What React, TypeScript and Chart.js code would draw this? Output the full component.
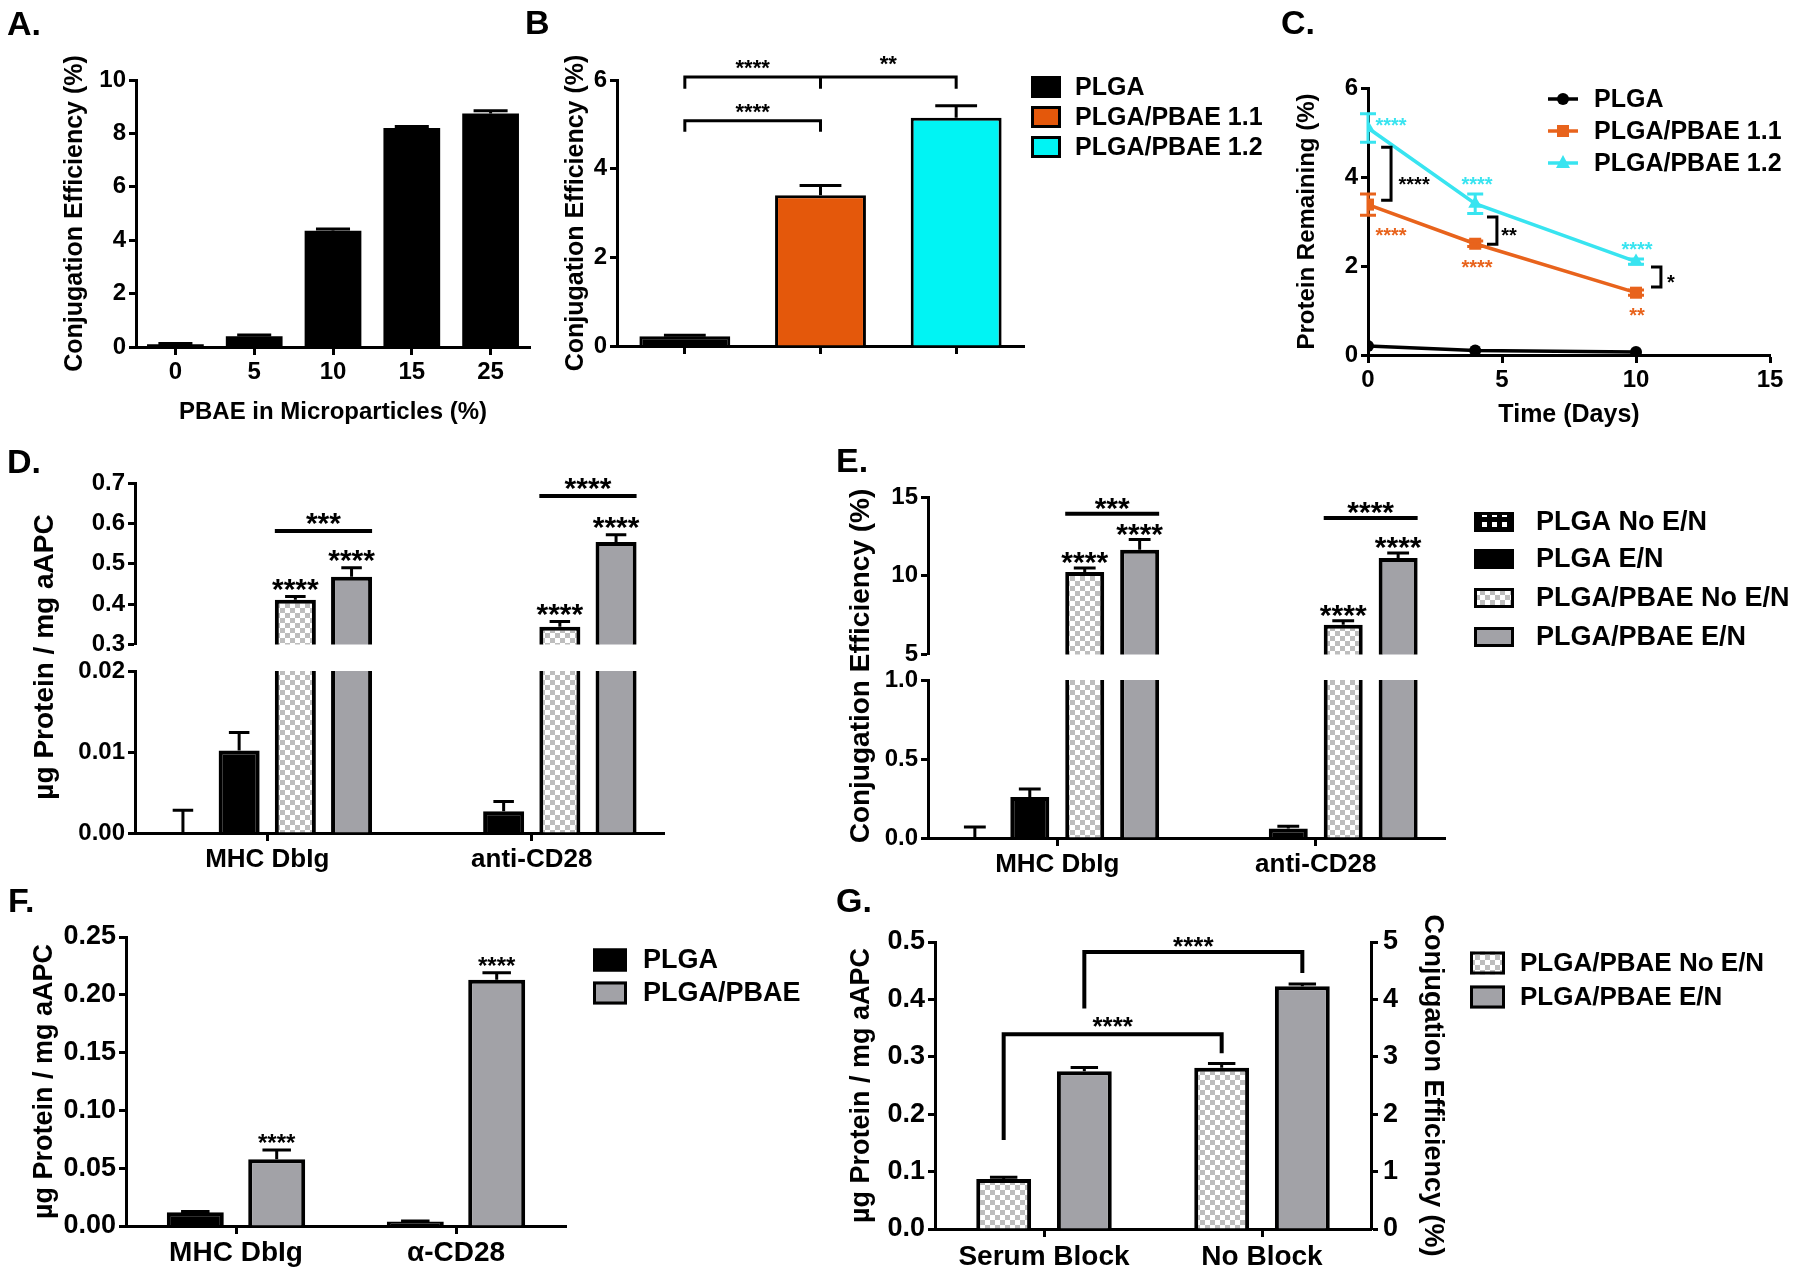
import React, { useEffect, useRef } from 'react';
import { Chart, registerables } from 'chart.js';

Chart.register(...registerables);

const FONT = "'Liberation Sans', Arial, Helvetica, sans-serif";
const BLACK = '#000000';
const GRAY = '#a2a2a7';
const ORANGE_B = '#e4580b';
const CYAN_B = '#00f4f4';
const ORANGE_C = '#e8631c';
const CYAN_C = '#38e4f0';

// ---------------- Panel A ----------------
const aCategories = ['0', '5', '10', '15', '25'];
const aValues = [0.1, 0.4, 4.35, 8.2, 8.75];
const aErrors = [0.03, 0.05, 0.07, 0.06, 0.1];
const aTicks = [0, 2, 4, 6, 8, 10];
const aTickLabels = ['0', '2', '4', '6', '8', '10'];

// ---------------- Panel B ----------------
const bSeries = ['PLGA', 'PLGA/PBAE 1.1', 'PLGA/PBAE 1.2'];
const bValues = [0.22, 3.4, 5.15];
const bErrors = [0.02, 0.22, 0.27];
const bTicks = [0, 2, 4, 6];
const bTickLabels = ['0', '2', '4', '6'];
const bBrackets = [
  { from: 0, to: 2, mid: 1, y: 6.07, legY: 5.8 },
  { from: 0, to: 1, mid: -1, y: 5.08, legY: 4.83 },
];
const bStars = [
  { text: '****', x: 0.5, y: 6.41 },
  { text: '**', x: 1.5, y: 6.5 },
  { text: '****', x: 0.5, y: 5.41 },
];

// ---------------- Panel C ----------------
const cDays = [0, 4, 10];
const cSeries = ['PLGA', 'PLGA/PBAE 1.1', 'PLGA/PBAE 1.2'];
const cPLGA = [0.2, 0.1, 0.07];
const cPLGAErr = [0, 0, 0];
const cPBAE11 = [3.38, 2.5, 1.4];
const cPBAE11Err = [0.24, 0.06, 0.06];
const cPBAE12 = [5.1, 3.4, 2.1];
const cPBAE12Err = [0.32, 0.22, 0.06];
const cXTicks = [0, 5, 10, 15];
const cXTickLabels = ['0', '5', '10', '15'];
const cYTicks = [0, 2, 4, 6];
const cYTickLabels = ['0', '2', '4', '6'];
const cStars = [
  { text: '****', x: 0.86, y: 5.28, c: 'cyan' },
  { text: '****', x: 1.72, y: 3.94, c: 'black' },
  { text: '****', x: 4.07, y: 3.94, c: 'cyan' },
  { text: '****', x: 0.86, y: 2.81, c: 'orange' },
  { text: '**', x: 5.26, y: 2.81, c: 'black' },
  { text: '****', x: 4.07, y: 2.07, c: 'orange' },
  { text: '****', x: 10.04, y: 2.49, c: 'cyan' },
  { text: '*', x: 11.3, y: 1.75, c: 'black' },
  { text: '**', x: 10.04, y: 1.01, c: 'orange' },
];
const cBrackets = [
  { x0: 0.49, x1: 0.86, y0: 4.67, y1: 3.48 },
  { x0: 4.44, x1: 4.81, y0: 3.1, y1: 2.49 },
  { x0: 10.56, x1: 10.93, y0: 1.98, y1: 1.53 },
];

// ---------------- Panels D / E (shared series) ----------------
const enSeries = ['PLGA No E/N', 'PLGA E/N', 'PLGA/PBAE No E/N', 'PLGA/PBAE E/N'];

const dCategories = ['MHC DbIg', 'anti-CD28'];
const dPlgaNoEN = [0, 0];
const dPlgaNoENErr = [0.0028, 0];
const dPlgaEN = [0.0102, 0.0027];
const dPlgaENErr = [0.0022, 0.0012];
const dPbaeNoEN = [0.411, 0.344];
const dPbaeNoENErr = [0.008, 0.013];
const dPbaeEN = [0.468, 0.554];
const dPbaeENErr = [0.022, 0.018];
const dTopTicks = [0.3, 0.4, 0.5, 0.6, 0.7];
const dTopTickLabels = ['0.3', '0.4', '0.5', '0.6', '0.7'];
const dLowTicks = [0, 0.01, 0.02];
const dLowTickLabels = ['0.00', '0.01', '0.02'];
const dBarStars = [['****', '****'], ['****', '****']];
const dGroupLineY = [0.581, 0.668];
const dGroupStars = ['***', '****'];

const eCategories = ['MHC DbIg', 'anti-CD28'];
const ePlgaNoEN = [0, 0];
const ePlgaNoENErr = [0.07, 0];
const ePlgaEN = [0.26, 0.06];
const ePlgaENErr = [0.05, 0.015];
const ePbaeNoEN = [10.24, 6.9];
const ePbaeNoENErr = [0.26, 0.25];
const ePbaeEN = [11.66, 11.13];
const ePbaeENErr = [0.64, 0.32];
const eTopTicks = [5, 10, 15];
const eTopTickLabels = ['5', '10', '15'];
const eLowTicks = [0, 0.5, 1];
const eLowTickLabels = ['0.0', '0.5', '1.0'];
const eBarStars = [['****', '****'], ['****', '****']];
const eGroupLineY = [13.94, 13.67];
const eGroupStars = ['***', '****'];

// ---------------- Panel F ----------------
const fCategories = ['MHC DbIg', 'α-CD28'];
const fSeries = ['PLGA', 'PLGA/PBAE'];
const fPLGA = [0.0118, 0.004];
const fPLGAErr = [0.0008, 0.0004];
const fPBAE = [0.0577, 0.213];
const fPBAEErr = [0.008, 0.006];
const fTicks = [0, 0.05, 0.1, 0.15, 0.2, 0.25];
const fTickLabels = ['0.00', '0.05', '0.10', '0.15', '0.20', '0.25'];
const fStars = ['****', '****'];

// ---------------- Panel G ----------------
const gCategories = ['Serum Block', 'No Block'];
const gSeries = ['PLGA/PBAE No E/N', 'PLGA/PBAE E/N'];
const gNoEN = [0.087, 0.281];
const gNoENErr = [0.003, 0.0075];
const gEN = [0.275, 0.423];
const gENErr = [0.0065, 0.004];
const gLeftTicks = [0, 0.1, 0.2, 0.3, 0.4, 0.5];
const gLeftTickLabels = ['0.0', '0.1', '0.2', '0.3', '0.4', '0.5'];
const gRightTicks = [0, 1, 2, 3, 4, 5];
const gRightTickLabels = ['0', '1', '2', '3', '4', '5'];
const gBrackets = [
  { ds: 1, y: 0.4826, leftLeg: 0.384, rightLeg: 0.446, text: '****', textY: 0.503 },
  { ds: 0, y: 0.3395, leftLeg: 0.155, rightLeg: 0.306, text: '****', textY: 0.364 },
];

// ---------------- geometry ----------------
type Rect = { x: number; y: number; w: number; h: number };
type Area = { l: number; t: number; r: number; b: number };
type Geo = { rect: Rect; area: Area };

const GEO: Record<string, Geo> = {
  A: { rect: { x: 0, y: 0, w: 548, h: 440 }, area: { l: 136, t: 80, r: 530, b: 347 } },
  B: { rect: { x: 548, y: 0, w: 722, h: 440 }, area: { l: 617, t: 80, r: 1024, b: 346 } },
  C: { rect: { x: 1270, y: 0, w: 530, h: 440 }, area: { l: 1368, t: 88, r: 1770, b: 355 } },
  Dlow: { rect: { x: 0, y: 440, w: 760, h: 440 }, area: { l: 135, t: 671, r: 664, b: 833 } },
  Dup: { rect: { x: 0, y: 458, w: 700, h: 204 }, area: { l: 135, t: 483, r: 664, b: 645 } },
  Elow: { rect: { x: 800, y: 440, w: 1000, h: 440 }, area: { l: 928, t: 680, r: 1445, b: 838 } },
  Eup: { rect: { x: 800, y: 466, w: 665, h: 206 }, area: { l: 928, t: 497, r: 1445, b: 655 } },
  F: { rect: { x: 0, y: 880, w: 800, h: 393 }, area: { l: 126, t: 937, r: 566, b: 1226 } },
  G: { rect: { x: 800, y: 880, w: 1000, h: 393 }, area: { l: 935, t: 942, r: 1371, b: 1229 } },
};
const G_RIGHT_W = 89;

// ---------------- helpers ----------------
const bold = (size: number) => ({ family: FONT, size, weight: 'bold' as const, lineHeight: 1.2 });

let PATTERNS: any = null;
function getPatterns() {
  if (PATTERNS) return PATTERNS;
  const make = (draw: (x: CanvasRenderingContext2D) => void) => {
    const c = document.createElement('canvas');
    c.width = 10;
    c.height = 10;
    const x = c.getContext('2d') as CanvasRenderingContext2D;
    draw(x);
    return x.createPattern(c, 'repeat');
  };
  const checker = make((x) => {
    x.fillStyle = '#ffffff';
    x.fillRect(0, 0, 10, 10);
    x.fillStyle = '#bdbdbd';
    x.fillRect(0, 0, 5, 5);
    x.fillRect(5, 5, 5, 5);
  });
  const dots = make((x) => {
    x.fillStyle = '#000000';
    x.fillRect(0, 0, 10, 10);
    x.fillStyle = '#ffffff';
    x.fillRect(2, 2, 5, 5);
  });
  PATTERNS = { checker, dots };
  return PATTERNS;
}

function pad(g: Geo, opts: { rightW?: number; xHidden?: boolean } = {}) {
  return {
    left: 0,
    top: g.area.t - g.rect.y,
    right: g.rect.x + g.rect.w - g.area.r - (opts.rightW ?? 0),
    bottom: opts.xHidden ? g.rect.y + g.rect.h - g.area.b : 0,
  };
}

function yAxis(g: Geo, o: any) {
  const pos = o.position ?? 'left';
  const ts = o.titleSize ?? 25;
  const lh = ts * 1.2;
  const width = o.width ?? g.area.l - g.rect.x;
  let titlePad = 0;
  if (o.title && o.titleX !== undefined) {
    titlePad = pos === 'left' ? o.titleX - g.rect.x - lh / 2 : g.area.r + width - o.titleX - lh / 2;
  }
  return {
    type: 'linear',
    position: pos,
    min: o.min,
    max: o.max,
    afterFit: (s: any) => {
      s.width = width;
    },
    afterBuildTicks: (s: any) => {
      s.ticks = o.ticks.map((v: number) => ({ value: v }));
    },
    ticks: {
      font: bold(o.size),
      color: BLACK,
      padding: o.pad ?? 3,
      callback: (_v: any, i: number) => o.labels[i],
    },
    grid: { display: true, drawOnChartArea: false, drawTicks: true, tickLength: 7, tickWidth: 3, tickColor: BLACK },
    border: { display: true, color: BLACK, width: 3 },
    title: {
      display: !!o.title,
      text: o.title ?? '',
      font: bold(ts),
      color: BLACK,
      padding: { top: titlePad, bottom: 0 },
    },
  };
}

function xAxis(g: Geo, o: any) {
  const height = g.rect.y + g.rect.h - g.area.b;
  const ts = o.titleSize ?? 24;
  const lh = ts * 1.2;
  const size = o.size ?? 24;
  const labelPad = o.labelY !== undefined ? o.labelY - g.area.b - 8 - size * 0.6 : 4;
  const titlePad = o.titleY !== undefined ? g.rect.y + g.rect.h - o.titleY - lh / 2 : 0;
  const base: any = {
    type: o.linear ? 'linear' : 'category',
    position: 'bottom',
    offset: !o.linear,
    afterFit: (s: any) => {
      s.height = height;
    },
    ticks: {
      display: o.labels !== false,
      font: bold(size),
      color: BLACK,
      padding: labelPad,
      maxRotation: 0,
      minRotation: 0,
      autoSkip: false,
    },
    grid: {
      display: true,
      drawOnChartArea: false,
      drawTicks: true,
      tickLength: 8,
      tickWidth: 3,
      tickColor: BLACK,
      offset: false,
    },
    border: { display: true, color: BLACK, width: 3 },
    title: {
      display: !!o.title,
      text: o.title ?? '',
      font: bold(ts),
      color: BLACK,
      padding: { top: 0, bottom: titlePad },
    },
  };
  if (o.linear) {
    base.min = o.min;
    base.max = o.max;
    base.afterBuildTicks = (s: any) => {
      s.ticks = o.ticks.map((v: number) => ({ value: v }));
    };
    base.ticks.callback = (_v: any, i: number) => o.tickLabels[i];
  }
  return base;
}

function commonOptions(g: Geo, scales: any, padding?: any) {
  return {
    responsive: false,
    animation: false,
    events: [],
    layout: { padding: padding ?? pad(g) },
    plugins: { legend: { display: false }, tooltip: { enabled: false } },
    scales,
  };
}

function errorBars(clipTop: number) {
  return {
    id: 'errorBars',
    afterDatasetsDraw(chart: any) {
      const ctx: CanvasRenderingContext2D = chart.ctx;
      const ca = chart.chartArea;
      ctx.save();
      ctx.beginPath();
      ctx.rect(ca.left - 60, ca.top - clipTop, ca.right - ca.left + 120, ca.bottom - ca.top + clipTop + (clipTop > 0 ? 20 : 0));
      ctx.clip();
      chart.data.datasets.forEach((ds: any, di: number) => {
        if (!ds.errors) return;
        const meta = chart.getDatasetMeta(di);
        const ys = chart.scales[meta.yAxisID];
        meta.data.forEach((el: any, i: number) => {
          const e = ds.errors[i];
          if (!e) return;
          const raw = ds.data[i];
          const v = typeof raw === 'number' ? raw : raw.y;
          const top = ys.getPixelForValue(v + e);
          const bot = ds.errBoth ? ys.getPixelForValue(v - e) : ys.getPixelForValue(v);
          const half = ds.capPx ?? (el.width ? el.width * (ds.capRatio ?? 0.25) : 7);
          ctx.strokeStyle = ds.errColor ?? BLACK;
          ctx.lineWidth = 3;
          ctx.beginPath();
          ctx.moveTo(el.x, bot);
          ctx.lineTo(el.x, top);
          ctx.moveTo(el.x - half, top);
          ctx.lineTo(el.x + half, top);
          if (ds.errBoth) {
            ctx.moveTo(el.x - half, bot);
            ctx.lineTo(el.x + half, bot);
          }
          ctx.stroke();
        });
      });
      ctx.restore();
    },
  };
}

function overlay(id: string, draw: (chart: any, ctx: CanvasRenderingContext2D) => void) {
  return {
    id,
    afterDraw(chart: any) {
      const ctx = chart.ctx as CanvasRenderingContext2D;
      ctx.save();
      draw(chart, ctx);
      ctx.restore();
    },
  };
}

function panelLabel(ctx: CanvasRenderingContext2D, rect: Rect, text: string, x: number, baseline: number) {
  ctx.font = `bold 34px ${FONT}`;
  ctx.fillStyle = BLACK;
  ctx.textAlign = 'left';
  ctx.textBaseline = 'alphabetic';
  ctx.fillText(text, x - rect.x, baseline - rect.y);
}

function vTitle(ctx: CanvasRenderingContext2D, rect: Rect, text: string, cx: number, cy: number, size: number) {
  ctx.save();
  ctx.translate(cx - rect.x, cy - rect.y);
  ctx.rotate(-Math.PI / 2);
  ctx.font = `bold ${size}px ${FONT}`;
  ctx.fillStyle = BLACK;
  ctx.textAlign = 'center';
  ctx.textBaseline = 'middle';
  ctx.fillText(text, 0, 0);
  ctx.restore();
}

function drawStars(ctx: CanvasRenderingContext2D, text: string, x: number, yCenter: number, size: number, color: string) {
  ctx.font = `bold ${size}px ${FONT}`;
  ctx.fillStyle = color;
  ctx.textAlign = 'center';
  ctx.textBaseline = 'alphabetic';
  ctx.fillText(text, x, yCenter + 0.58 * size);
}

function boxLegend(
  ctx: CanvasRenderingContext2D,
  rect: Rect,
  items: { label: string; fill: any }[],
  o: { x: number; ys: number[]; bw: number; bh: number; tx: number; size: number }
) {
  items.forEach((it, i) => {
    const bx = o.x - rect.x;
    const by = o.ys[i] - rect.y - o.bh / 2;
    ctx.fillStyle = it.fill;
    ctx.fillRect(bx, by, o.bw, o.bh);
    ctx.strokeStyle = BLACK;
    ctx.lineWidth = 3;
    ctx.strokeRect(bx + 1.5, by + 1.5, o.bw - 3, o.bh - 3);
    ctx.fillStyle = BLACK;
    ctx.font = `bold ${o.size}px ${FONT}`;
    ctx.textAlign = 'left';
    ctx.textBaseline = 'middle';
    ctx.fillText(it.label, o.tx - rect.x, o.ys[i] - rect.y + 1);
  });
}

function enDatasets(vals: number[][], errs: number[][], barPct: number, capRatio: number) {
  const p = getPatterns();
  const fills = [p.dots, BLACK, p.checker, GRAY];
  return enSeries.map((label, k) => ({
    label,
    data: vals[k],
    errors: errs[k],
    capRatio,
    backgroundColor: fills[k],
    borderColor: BLACK,
    borderWidth: 4,
    borderSkipped: 'start',
    barPercentage: barPct,
    categoryPercentage: 0.85,
    clip: 0,
  }));
}

// ---------------- chart builders ----------------
function buildA() {
  const g = GEO.A;
  return {
    type: 'bar',
    data: {
      labels: aCategories,
      datasets: [
        {
          label: 'Conjugation Efficiency',
          data: aValues,
          errors: aErrors,
          capRatio: 0.3,
          backgroundColor: BLACK,
          borderColor: BLACK,
          borderWidth: 0,
          barPercentage: 0.72,
          categoryPercentage: 1,
          clip: 0,
        },
      ],
    },
    options: commonOptions(g, {
      x: xAxis(g, { size: 24, labelY: 372, title: 'PBAE in Microparticles (%)', titleSize: 24, titleY: 412 }),
      y: yAxis(g, { min: 0, max: 10, ticks: aTicks, labels: aTickLabels, size: 24, title: 'Conjugation Efficiency (%)', titleSize: 25, titleX: 75 }),
    }),
    plugins: [
      errorBars(30),
      overlay('ovA', (_chart, ctx) => {
        panelLabel(ctx, g.rect, 'A.', 7, 35);
        panelLabel(ctx, g.rect, 'B.', 525, 34);
      }),
    ],
  };
}

function buildB() {
  const g = GEO.B;
  const colors = [BLACK, ORANGE_B, CYAN_B];
  return {
    type: 'bar',
    data: {
      labels: bSeries,
      datasets: [
        {
          label: 'Conjugation Efficiency',
          data: bValues,
          errors: bErrors,
          capRatio: 0.23,
          backgroundColor: colors,
          borderColor: BLACK,
          borderWidth: 3,
          barPercentage: 0.67,
          categoryPercentage: 1,
          clip: 0,
        },
      ],
    },
    options: commonOptions(g, {
      x: xAxis(g, { labels: false }),
      y: yAxis(g, { min: 0, max: 6, ticks: bTicks, labels: bTickLabels, size: 24, title: 'Conjugation Efficiency (%)', titleSize: 25, titleX: 576 }),
    }),
    plugins: [
      errorBars(30),
      overlay('ovB', (chart, ctx) => {
        const xs = chart.scales.x;
        const ys = chart.scales.y;
        ctx.strokeStyle = BLACK;
        ctx.lineWidth = 3;
        bBrackets.forEach((br) => {
          const x0 = xs.getPixelForValue(br.from);
          const x1 = xs.getPixelForValue(br.to);
          const y = ys.getPixelForValue(br.y);
          const yl = ys.getPixelForValue(br.legY);
          ctx.beginPath();
          ctx.moveTo(x0, yl);
          ctx.lineTo(x0, y);
          ctx.lineTo(x1, y);
          ctx.lineTo(x1, yl);
          if (br.mid >= 0) {
            const xm = xs.getPixelForValue(br.mid);
            ctx.moveTo(xm, y);
            ctx.lineTo(xm, yl);
          }
          ctx.stroke();
        });
        bStars.forEach((s) => drawStars(ctx, s.text, xs.getPixelForValue(s.x), ys.getPixelForValue(s.y), 22, BLACK));
        const ds = chart.data.datasets[0];
        boxLegend(
          ctx,
          g.rect,
          bSeries.map((label, i) => ({ label, fill: ds.backgroundColor[i] })),
          { x: 1031, ys: [87, 117, 147], bw: 30, bh: 22, tx: 1075, size: 25 }
        );
      }),
    ],
  };
}

function buildC() {
  const g = GEO.C;
  const mk = (vals: number[]) => cDays.map((d, i) => ({ x: d, y: vals[i] }));
  const line = (label: string, vals: number[], errs: number[], color: string, style: string, r: number) => ({
    label,
    data: mk(vals),
    errors: errs,
    errBoth: true,
    errColor: color,
    capPx: 8,
    borderColor: color,
    backgroundColor: color,
    pointBackgroundColor: color,
    pointBorderColor: color,
    pointBorderWidth: 0,
    pointStyle: style,
    pointRadius: r,
    borderWidth: 3.5,
    tension: 0,
  });
  return {
    type: 'line',
    data: {
      datasets: [
        line(cSeries[0], cPLGA, cPLGAErr, BLACK, 'circle', 6),
        line(cSeries[1], cPBAE11, cPBAE11Err, ORANGE_C, 'rect', 8.5),
        line(cSeries[2], cPBAE12, cPBAE12Err, CYAN_C, 'triangle', 8),
      ],
    },
    options: commonOptions(g, {
      x: xAxis(g, { linear: true, min: 0, max: 15, ticks: cXTicks, tickLabels: cXTickLabels, size: 24, labelY: 380, title: 'Time (Days)', titleSize: 25, titleY: 415 }),
      y: yAxis(g, { min: 0, max: 6, ticks: cYTicks, labels: cYTickLabels, size: 24, title: 'Protein Remaining (%)', titleSize: 24, titleX: 1307 }),
    }),
    plugins: [
      errorBars(30),
      overlay('ovC', (chart, ctx) => {
        panelLabel(ctx, g.rect, 'C.', 1281, 34);
        const xs = chart.scales.x;
        const ys = chart.scales.y;
        const col: any = { cyan: CYAN_C, orange: ORANGE_C, black: BLACK };
        ctx.strokeStyle = BLACK;
        ctx.lineWidth = 3;
        cBrackets.forEach((b) => {
          const x0 = xs.getPixelForValue(b.x0);
          const x1 = xs.getPixelForValue(b.x1);
          const y0 = ys.getPixelForValue(b.y0);
          const y1 = ys.getPixelForValue(b.y1);
          ctx.beginPath();
          ctx.moveTo(x0, y0);
          ctx.lineTo(x1, y0);
          ctx.lineTo(x1, y1);
          ctx.lineTo(x0, y1);
          ctx.stroke();
        });
        cStars.forEach((s) => drawStars(ctx, s.text, xs.getPixelForValue(s.x), ys.getPixelForValue(s.y), 20, col[s.c]));
        // legend
        const rows = [99, 131, 163];
        chart.data.datasets.forEach((ds: any, i: number) => {
          const y = rows[i] - g.rect.y;
          const x0 = 1548 - g.rect.x;
          const x1 = 1578 - g.rect.x;
          const xm = (x0 + x1) / 2;
          ctx.strokeStyle = ds.borderColor;
          ctx.fillStyle = ds.borderColor;
          ctx.lineWidth = 3.5;
          ctx.beginPath();
          ctx.moveTo(x0, y);
          ctx.lineTo(x1, y);
          ctx.stroke();
          ctx.beginPath();
          if (ds.pointStyle === 'circle') {
            ctx.arc(xm, y, 6, 0, Math.PI * 2);
          } else if (ds.pointStyle === 'rect') {
            ctx.rect(xm - 6, y - 6, 12, 12);
          } else {
            ctx.moveTo(xm, y - 8);
            ctx.lineTo(xm + 7, y + 5);
            ctx.lineTo(xm - 7, y + 5);
            ctx.closePath();
          }
          ctx.fill();
          ctx.fillStyle = BLACK;
          ctx.font = `bold 25px ${FONT}`;
          ctx.textAlign = 'left';
          ctx.textBaseline = 'middle';
          ctx.fillText(cSeries[i], 1594 - g.rect.x, y + 1);
        });
      }),
    ],
  };
}

function groupAnnotations(
  chart: any,
  ctx: CanvasRenderingContext2D,
  cats: string[],
  barStars: string[][],
  lineY: number[],
  groupStars: string[],
  size: number,
  gap: number
) {
  const ys = chart.scales.y;
  const m2 = chart.getDatasetMeta(2);
  const m3 = chart.getDatasetMeta(3);
  const d2 = chart.data.datasets[2];
  const d3 = chart.data.datasets[3];
  cats.forEach((_c, i) => {
    const e2 = m2.data[i];
    const e3 = m3.data[i];
    const t2 = ys.getPixelForValue(d2.data[i] + (d2.errors[i] || 0));
    const t3 = ys.getPixelForValue(d3.data[i] + (d3.errors[i] || 0));
    drawStars(ctx, barStars[i][0], e2.x, t2 - gap, size, BLACK);
    drawStars(ctx, barStars[i][1], e3.x, t3 - gap, size, BLACK);
    const y = ys.getPixelForValue(lineY[i]);
    ctx.strokeStyle = BLACK;
    ctx.lineWidth = 4;
    ctx.beginPath();
    ctx.moveTo(e2.x - e2.width / 2, y);
    ctx.lineTo(e3.x + e3.width / 2, y);
    ctx.stroke();
    drawStars(ctx, groupStars[i], (e2.x + e3.x) / 2, y - gap, size, BLACK);
  });
}

const dVals = [dPlgaNoEN, dPlgaEN, dPbaeNoEN, dPbaeEN];
const dErrs = [dPlgaNoENErr, dPlgaENErr, dPbaeNoENErr, dPbaeENErr];
const eVals = [ePlgaNoEN, ePlgaEN, ePbaeNoEN, ePbaeEN];
const eErrs = [ePlgaNoENErr, ePlgaENErr, ePbaeNoENErr, ePbaeENErr];

function buildDlow() {
  const g = GEO.Dlow;
  return {
    type: 'bar',
    data: { labels: dCategories, datasets: enDatasets(dVals, dErrs, 0.73, 0.25) },
    options: commonOptions(g, {
      x: xAxis(g, { size: 26, labelY: 860 }),
      y: yAxis(g, { min: 0, max: 0.02, ticks: dLowTicks, labels: dLowTickLabels, size: 24 }),
    }),
    plugins: [
      errorBars(0),
      overlay('ovDlow', (_chart, ctx) => {
        panelLabel(ctx, g.rect, 'D.', 7, 473);
        vTitle(ctx, g.rect, 'µg Protein / mg aAPC', 45, 657, 28);
      }),
    ],
  };
}

function buildDup() {
  const g = GEO.Dup;
  return {
    type: 'bar',
    data: { labels: dCategories, datasets: enDatasets(dVals, dErrs, 0.73, 0.25) },
    options: commonOptions(
      g,
      {
        x: { type: 'category', display: false, offset: true },
        y: yAxis(g, { min: 0.3, max: 0.7, ticks: dTopTicks, labels: dTopTickLabels, size: 24 }),
      },
      pad(g, { xHidden: true })
    ),
    plugins: [
      errorBars(0),
      overlay('ovDup', (chart, ctx) => {
        groupAnnotations(chart, ctx, dCategories, dBarStars, dGroupLineY, dGroupStars, 30, 15);
      }),
    ],
  };
}

function buildElow() {
  const g = GEO.Elow;
  return {
    type: 'bar',
    data: { labels: eCategories, datasets: enDatasets(eVals, eErrs, 0.71, 0.28) },
    options: commonOptions(g, {
      x: xAxis(g, { size: 26, labelY: 865 }),
      y: yAxis(g, { min: 0, max: 1, ticks: eLowTicks, labels: eLowTickLabels, size: 24 }),
    }),
    plugins: [
      errorBars(0),
      overlay('ovElow', (chart, ctx) => {
        panelLabel(ctx, g.rect, 'E.', 836, 472);
        vTitle(ctx, g.rect, 'Conjugation Efficiency (%)', 861, 666, 28);
        boxLegend(
          ctx,
          g.rect,
          chart.data.datasets.map((ds: any) => ({ label: ds.label, fill: ds.backgroundColor })),
          { x: 1474, ys: [522, 559, 598, 637], bw: 40, bh: 20, tx: 1536, size: 27 }
        );
      }),
    ],
  };
}

function buildEup() {
  const g = GEO.Eup;
  return {
    type: 'bar',
    data: { labels: eCategories, datasets: enDatasets(eVals, eErrs, 0.71, 0.28) },
    options: commonOptions(
      g,
      {
        x: { type: 'category', display: false, offset: true },
        y: yAxis(g, { min: 5, max: 15, ticks: eTopTicks, labels: eTopTickLabels, size: 24 }),
      },
      pad(g, { xHidden: true })
    ),
    plugins: [
      errorBars(0),
      overlay('ovEup', (chart, ctx) => {
        groupAnnotations(chart, ctx, eCategories, eBarStars, eGroupLineY, eGroupStars, 30, 13);
      }),
    ],
  };
}

function buildF() {
  const g = GEO.F;
  const mkds = (label: string, data: number[], errors: number[], fill: string) => ({
    label,
    data,
    errors,
    capRatio: 0.25,
    backgroundColor: fill,
    borderColor: BLACK,
    borderWidth: 4,
    barPercentage: 0.7,
    categoryPercentage: 0.74,
    clip: 0,
  });
  return {
    type: 'bar',
    data: {
      labels: fCategories,
      datasets: [mkds(fSeries[0], fPLGA, fPLGAErr, BLACK), mkds(fSeries[1], fPBAE, fPBAEErr, GRAY)],
    },
    options: commonOptions(g, {
      x: xAxis(g, { size: 28, labelY: 1253 }),
      y: yAxis(g, { min: 0, max: 0.25, ticks: fTicks, labels: fTickLabels, size: 27, title: 'µg Protein / mg aAPC', titleSize: 27, titleX: 45 }),
    }),
    plugins: [
      errorBars(30),
      overlay('ovF', (chart, ctx) => {
        panelLabel(ctx, g.rect, 'F.', 8, 912);
        const ys = chart.scales.y;
        const m = chart.getDatasetMeta(1);
        const ds = chart.data.datasets[1];
        fCategories.forEach((_c, i) => {
          const t = ys.getPixelForValue(ds.data[i] + ds.errors[i]);
          drawStars(ctx, fStars[i], m.data[i].x, t - 13, 24, BLACK);
        });
        boxLegend(
          ctx,
          g.rect,
          chart.data.datasets.map((d: any) => ({ label: d.label, fill: d.backgroundColor })),
          { x: 593, ys: [960, 993], bw: 34, bh: 23, tx: 643, size: 27 }
        );
      }),
    ],
  };
}

function buildG() {
  const g = GEO.G;
  const p = getPatterns();
  const mkds = (label: string, data: number[], errors: number[], fill: any) => ({
    label,
    data,
    errors,
    capRatio: 0.25,
    backgroundColor: fill,
    borderColor: BLACK,
    borderWidth: 4,
    barPercentage: 0.68,
    categoryPercentage: 0.74,
    clip: 0,
    yAxisID: 'y',
  });
  return {
    type: 'bar',
    data: {
      labels: gCategories,
      datasets: [mkds(gSeries[0], gNoEN, gNoENErr, p.checker), mkds(gSeries[1], gEN, gENErr, GRAY)],
    },
    options: commonOptions(
      g,
      {
        x: xAxis(g, { size: 28, labelY: 1257 }),
        y: yAxis(g, { min: 0, max: 0.5, ticks: gLeftTicks, labels: gLeftTickLabels, size: 27, title: 'µg Protein / mg aAPC', titleSize: 27, titleX: 862 }),
        y1: yAxis(g, {
          position: 'right',
          width: G_RIGHT_W,
          min: 0,
          max: 5,
          ticks: gRightTicks,
          labels: gRightTickLabels,
          size: 27,
          pad: 5,
          title: 'Conjugation Efficiency (%)',
          titleSize: 27,
          titleX: 1432,
        }),
      },
      pad(g, { rightW: G_RIGHT_W })
    ),
    plugins: [
      errorBars(30),
      overlay('ovG', (chart, ctx) => {
        panelLabel(ctx, g.rect, 'G.', 836, 912);
        const ys = chart.scales.y;
        ctx.strokeStyle = BLACK;
        ctx.lineWidth = 4;
        gBrackets.forEach((b) => {
          const m = chart.getDatasetMeta(b.ds);
          const x0 = m.data[0].x;
          const x1 = m.data[1].x;
          const y = ys.getPixelForValue(b.y);
          ctx.beginPath();
          ctx.moveTo(x0, ys.getPixelForValue(b.leftLeg));
          ctx.lineTo(x0, y);
          ctx.lineTo(x1, y);
          ctx.lineTo(x1, ys.getPixelForValue(b.rightLeg));
          ctx.stroke();
          drawStars(ctx, b.text, (x0 + x1) / 2, ys.getPixelForValue(b.textY), 26, BLACK);
        });
        boxLegend(
          ctx,
          g.rect,
          chart.data.datasets.map((d: any) => ({ label: d.label, fill: d.backgroundColor })),
          { x: 1470, ys: [963, 997], bw: 35, bh: 23, tx: 1520, size: 26 }
        );
      }),
    ],
  };
}

// ---------------- components ----------------
function ChartCanvas({ rect, build }: { rect: Rect; build: () => any }) {
  const ref = useRef<HTMLCanvasElement>(null);
  useEffect(() => {
    const el = ref.current;
    if (!el) return;
    const chart = new Chart(el, build());
    return () => chart.destroy();
  }, []);
  return (
    <canvas
      ref={ref}
      width={rect.w}
      height={rect.h}
      style={{ position: 'absolute', left: rect.x, top: rect.y, width: rect.w, height: rect.h }}
    />
  );
}

const PANELS: { key: string; geo: Geo; build: () => any }[] = [
  { key: 'A', geo: GEO.A, build: buildA },
  { key: 'B', geo: GEO.B, build: buildB },
  { key: 'C', geo: GEO.C, build: buildC },
  { key: 'Dlow', geo: GEO.Dlow, build: buildDlow },
  { key: 'Dup', geo: GEO.Dup, build: buildDup },
  { key: 'Elow', geo: GEO.Elow, build: buildElow },
  { key: 'Eup', geo: GEO.Eup, build: buildEup },
  { key: 'F', geo: GEO.F, build: buildF },
  { key: 'G', geo: GEO.G, build: buildG },
];

export default function App() {
  return (
    <div
      style={{
        position: 'absolute',
        left: 0,
        top: 0,
        width: 1800,
        height: 1273,
        background: '#ffffff',
        overflow: 'hidden',
      }}
    >
      {PANELS.map((p) => (
        <ChartCanvas key={p.key} rect={p.geo.rect} build={p.build} />
      ))}
    </div>
  );
}
